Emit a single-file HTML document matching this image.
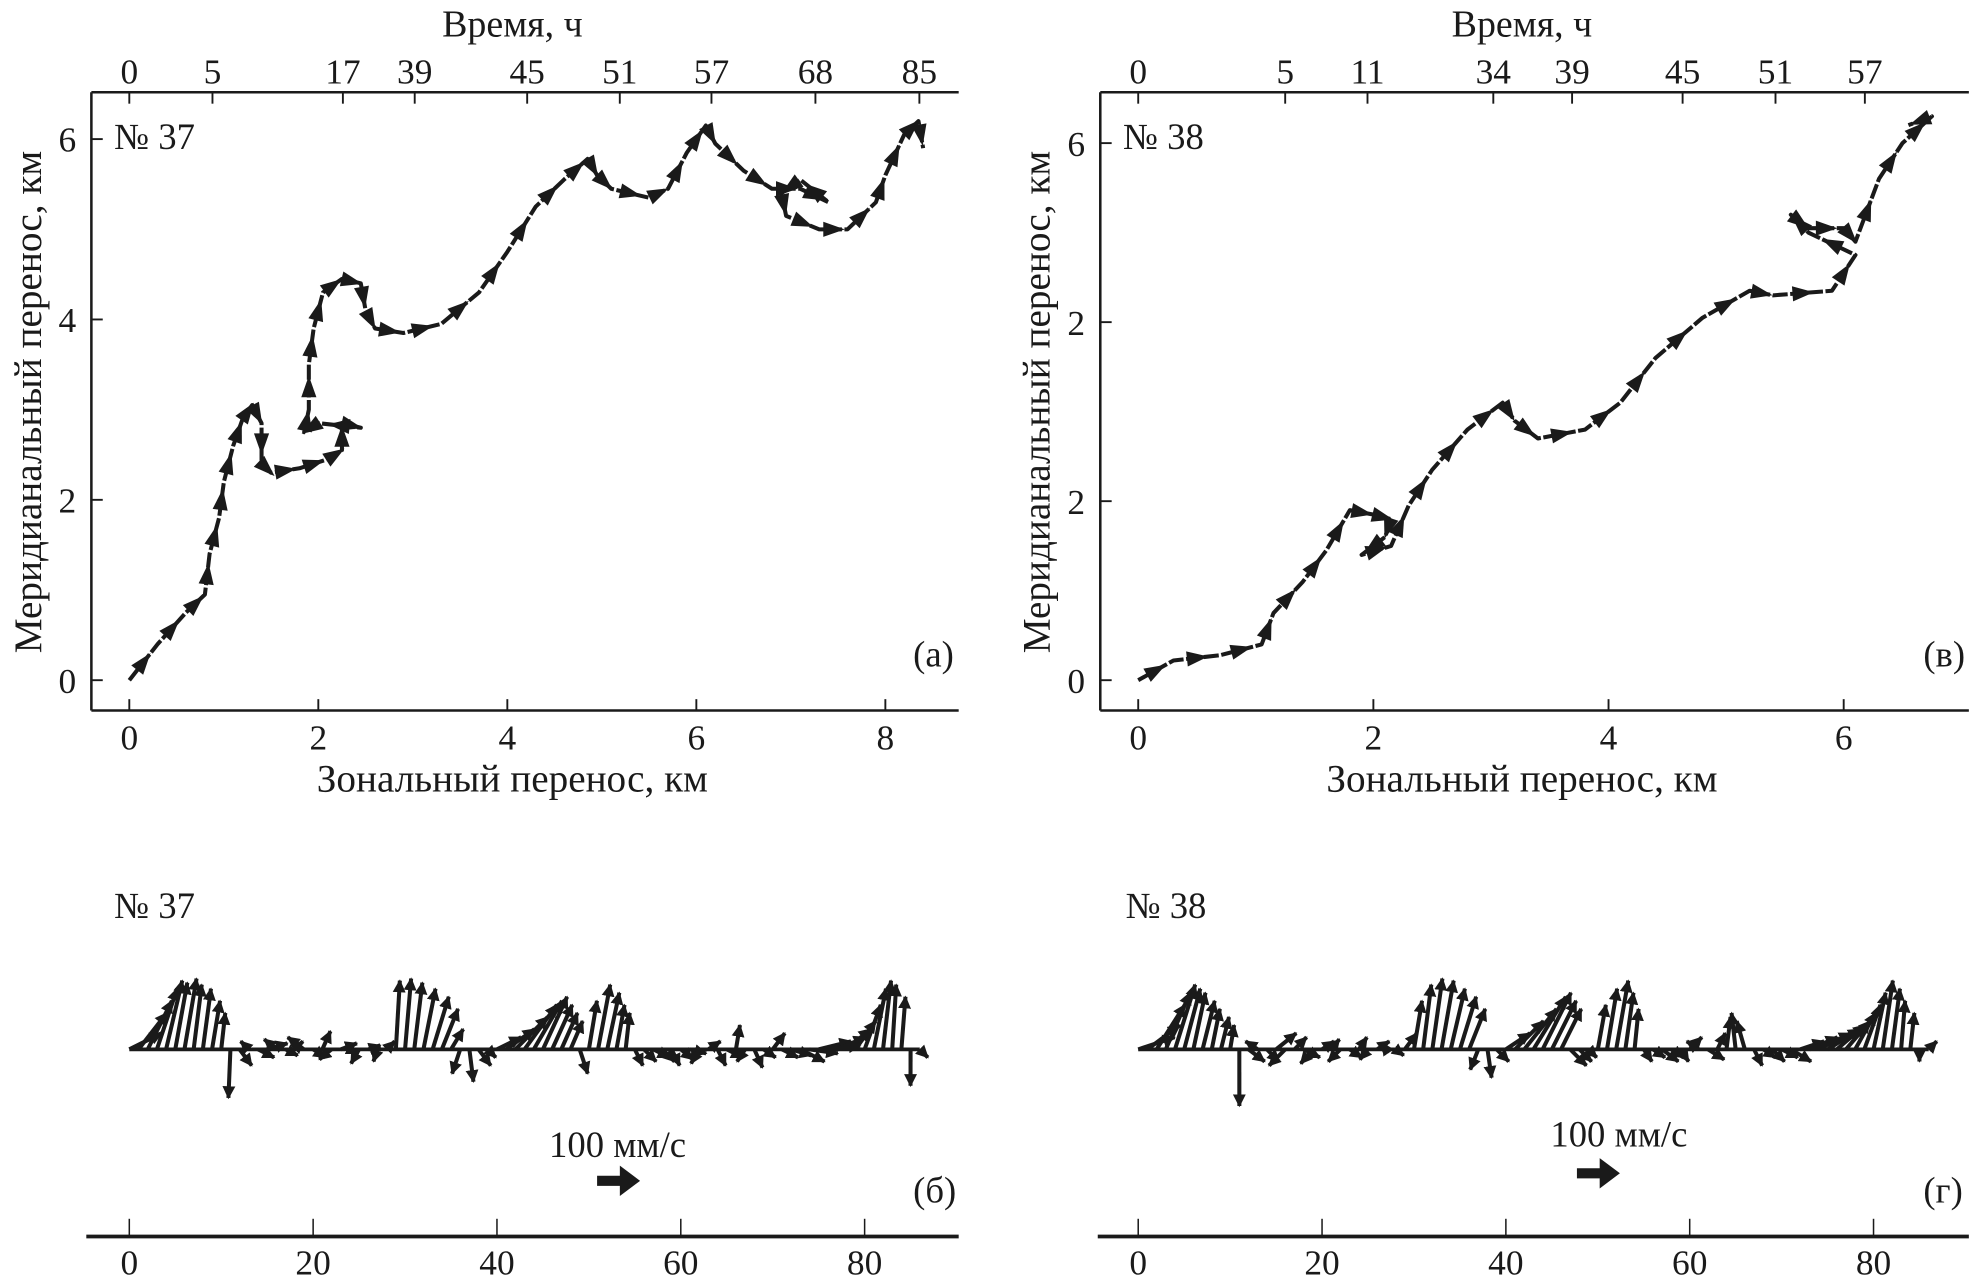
<!DOCTYPE html>
<html><head><meta charset="utf-8"><style>
html,body{margin:0;padding:0;background:#fff}
svg{display:block}
svg text{font-family:"Liberation Serif","Times New Roman",serif !important}
</style></head><body>
<svg id="fig" width="1973" height="1282" viewBox="0 0 1560 1014" xmlns="http://www.w3.org/2000/svg">
<defs>
<marker id="ah" viewBox="0 0 10 10" refX="9" refY="5" markerWidth="3.2" markerHeight="3.2" orient="auto"><path d="M0,0L10,5L0,10z" fill="#1a1a1a"/></marker>
</defs>
<g id="root" style="font-family:'Liberation Serif',serif" fill="#1a1a1a"></g>
</svg>
<script>
// ---- data: trajectory №37 (km)
const trajAx=[0,0.3,0.6,0.8,0.85,0.95,1.0,1.1,1.2,1.3,1.4,1.4,1.5,1.8,2.1,2.25,2.25,2.45,2.0,1.85,1.9,1.9,1.95,2.05,2.25,2.45,2.5,2.6,2.9,3.3,3.7,4.0,4.3,4.6,4.85,4.95,5.1,5.5,5.7,5.9,6.1,6.2,6.5,6.8,7.1,7.4,7.1,6.9,6.95,7.3,7.6,7.9,8.0,8.2,8.35,8.4];
const trajAy=[0,0.4,0.75,0.95,1.4,1.8,2.2,2.6,2.9,3.05,2.85,2.4,2.3,2.35,2.45,2.55,2.85,2.8,2.85,2.75,3.0,3.5,3.9,4.3,4.45,4.4,4.1,3.9,3.85,3.95,4.3,4.75,5.25,5.55,5.78,5.6,5.45,5.35,5.45,5.85,6.15,5.95,5.65,5.45,5.45,5.3,5.55,5.4,5.15,5.0,5.0,5.3,5.6,6.05,6.2,5.9];
// ---- data: trajectory №38 (km)
const trajBx=[0,0.3,0.7,1.05,1.15,1.4,1.6,1.8,2.0,2.15,2.1,1.9,2.15,2.3,2.5,2.8,3.1,3.2,3.4,3.8,4.1,4.4,4.8,5.2,5.4,5.9,6.1,5.7,5.55,5.7,6.0,6.1,6.3,6.5,6.75,6.55];
const trajBy=[0,0.22,0.28,0.4,0.75,1.1,1.45,1.9,1.85,1.8,1.6,1.4,1.5,1.95,2.35,2.8,3.1,2.9,2.7,2.8,3.1,3.6,4.05,4.35,4.3,4.35,4.75,5.0,5.2,5.05,5.05,4.9,5.6,6.0,6.3,6.2];
const ticksX37=[0,2,4,6,8], ticksX38=[0,2,4,6];
const ticksY=[0,2,4,6];
const yLabels37=["0","2","4","6"], yLabels38=["0","2","2","6"];
const timeA=["0","5","17","39","45","51","57","68","85"];
const timeApos=[0,0.88,2.26,3.02,4.21,5.19,6.16,7.26,8.36];
const timeB=["0","5","11","34","39","45","51","57"];
const timeBpos=[0,1.25,1.95,3.02,3.69,4.63,5.42,6.18];
// ---- stick plot velocities (mm/s), hourly
const v37=[40,90,120,150,170,165,175,160,150,120,90,-120,-40,20,-20,15,25,-15,20,30,-20,45,-25,15,-10,-35,10,-30,20,170,175,165,150,130,100,50,-60,-80,-40,-20,30,50,80,110,120,130,110,90,70,-60,120,160,140,110,90,-40,-30,-20,-30,-40,-25,-10,-35,20,-40,-20,60,-30,-45,-20,40,-20,-15,-30,-10,20,10,30,50,70,110,150,170,160,130,-90,-20];
const u37=[80,70,60,50,40,30,30,20,20,20,10,-5,30,-20,40,50,-30,30,20,-40,30,20,-30,40,20,-20,30,-10,20,10,15,20,30,40,40,30,-20,10,30,20,60,70,80,80,70,60,50,40,30,20,20,30,30,20,10,20,30,40,30,20,30,40,-20,30,20,40,10,-20,20,30,30,40,50,60,70,80,80,70,60,50,40,30,20,10,10,0,20];
const v38=[30,60,110,140,160,150,140,120,100,80,60,-140,-30,20,-30,40,-40,30,-20,-35,20,25,-30,-20,30,-25,20,15,-15,40,120,160,175,170,150,130,100,-50,-70,-30,40,70,100,130,140,120,100,-40,-30,-20,110,150,170,140,100,-30,-20,-30,-20,-30,30,20,-25,40,80,90,70,-40,-20,-30,-20,-30,20,30,40,50,60,70,90,110,140,170,150,120,90,-30,20];
const u38=[90,80,70,60,50,40,30,30,20,20,10,0,40,-30,30,50,-40,30,40,-30,30,20,-30,30,20,-20,30,-10,20,30,20,20,25,30,35,40,40,-20,10,30,60,70,80,80,70,60,50,40,30,20,20,25,30,20,10,20,30,40,30,20,30,-30,40,20,10,-10,-20,20,30,30,40,50,60,70,80,80,70,60,50,40,30,25,20,10,10,0,20];

const NS="http://www.w3.org/2000/svg";
const root=document.getElementById('root');
function mk(tag,attrs,parent,txt){const e=document.createElementNS(NS,tag);for(const k in attrs)e.setAttribute(k,attrs[k]);if(txt!==undefined)e.textContent=txt;(parent||root).appendChild(e);return e;}
const K='#1a1a1a';

function trajPanel(o){
  const g=mk('g',{});
  
  
  const sx=v=>o.x0+v*o.kx, sy=v=>538-v*o.ky;
  let l=mk('line',{x1:o.L,y1:73,x2:o.R,y2:73,stroke:K,'stroke-width':2},g);
  
  
  l=mk('line',{x1:o.L,y1:73,x2:o.L,y2:562,stroke:K,'stroke-width':2},g);
  
  
  l=mk('line',{x1:o.L,y1:562,x2:o.R,y2:562,stroke:K,'stroke-width':2},g);
  
  
  o.tx.forEach(t=>{mk('line',{x1:sx(t),y1:562,x2:sx(t),y2:553,stroke:K,'stroke-width':1.5},g);
    const tt=mk('text',{x:sx(t),y:593,'font-size':28,'text-anchor':'middle'},g,String(t));
    
    });
  ticksY.forEach((t,i)=>{mk('line',{x1:o.L,y1:sy(t),x2:o.L+9,y2:sy(t),stroke:K,'stroke-width':1.5},g);
    const tt=mk('text',{x:o.L-12,y:sy(t)+10,'font-size':28,'text-anchor':'end'},g,o.yl[i]);
    
    });
  o.tp.forEach((p,i)=>{mk('line',{x1:sx(p),y1:73,x2:sx(p),y2:82,stroke:K,'stroke-width':1.5},g);
    const tt=mk('text',{x:sx(p),y:66,'font-size':28,'text-anchor':'middle'},g,o.tl[i]);
    
    });
  let t=mk('text',{x:(o.L+o.R)/2-10,y:29,'font-size':30,'text-anchor':'middle'},g,'Время, ч');
  
  
  t=mk('text',{x:(o.L+o.R)/2-10,y:626,'font-size':31,'text-anchor':'middle'},g,'Зональный перенос, км');
  
  
  t=mk('text',{x:0,y:0,'font-size':31,'text-anchor':'middle',transform:`translate(${o.L-40},318) rotate(-90)`},g,'Меридианальный перенос, км');
  
  
  t=mk('text',{x:o.L+18,y:118,'font-size':29},g,o.no);
  
  
  t=mk('text',{x:o.R-36,y:527,'font-size':29},g,o.pl);
  
  
  const pts=o.xs.map((x,i)=>sx(x).toFixed(1)+','+sy(o.ys[i]).toFixed(1)).join(' ');
  const pl=mk('polyline',{points:pts,fill:'none',stroke:K,'stroke-width':3.2,'stroke-dasharray':'12 2','stroke-linejoin':'round'},g);
  
  
  for(let i=0;i<o.xs.length-1;i++){
    const x1=sx(o.xs[i]),y1=sy(o.ys[i]),x2=sx(o.xs[i+1]),y2=sy(o.ys[i+1]);
    const a=Math.atan2(y2-y1,x2-x1)*180/Math.PI, mx=(x1+x2)/2,my=(y1+y2)/2;
    const h=mk('path',{d:'M9,0L-8,-6L-8,6Z',fill:K,transform:`translate(${mx.toFixed(1)},${my.toFixed(1)}) rotate(${a.toFixed(1)})`},g);
    
    
  }
}
trajPanel({name:'trajectory-panel-37',L:72,R:758,x0:102,kx:74.75,ky:71.33,tx:ticksX37,yl:yLabels37,tp:timeApos,tl:timeA,xs:trajAx,ys:trajAy,no:'№ 37',pl:'(а)'});
trajPanel({name:'trajectory-panel-38',L:870,R:1557,x0:900,kx:93,ky:70.8,tx:ticksX38,yl:yLabels38,tp:timeBpos,tl:timeB,xs:trajBx,ys:trajBy,no:'№ 38',pl:'(в)'});

const hTicks=[0,20,40,60,80];
function stickPanel(o){
  const g=mk('g',{});
  
  
  const sx=h=>o.x0+h*7.27, base=830, s=0.32;
  let l=mk('line',{x1:o.L,y1:978,x2:o.R,y2:978,stroke:K,'stroke-width':3},g);
  
  
  hTicks.forEach(t=>{mk('line',{x1:sx(t),y1:978,x2:sx(t),y2:964,stroke:K,'stroke-width':1.2},g);
    const tt=mk('text',{x:sx(t),y:1008,'font-size':28,'text-anchor':'middle'},g,String(t));
    
    });
  let t=mk('text',{x:o.L+22,y:726,'font-size':29},g,o.no);
  
  
  t=mk('text',{x:o.sc[0],y:o.sc[1],'font-size':29},g,'100 мм/с');
  
  
  const ax=o.sc[2], ay=o.sc[3];
  const sa=mk('path',{d:`M${ax},${ay-4}L${ax+18},${ay-4}L${ax+18},${ay-12}L${ax+34},${ay}L${ax+18},${ay+12}L${ax+18},${ay+4}L${ax},${ay+4}Z`,fill:K},g);
  
  
  t=mk('text',{x:o.R-36,y:951,'font-size':29},g,o.pl);
  
  
  o.v.forEach((v,i)=>{
    const x=sx(i);
    const a=mk('line',{x1:x,y1:base,x2:(x+o.u[i]*s).toFixed(1),y2:(base-v*s).toFixed(1),stroke:K,'stroke-width':3.2,'marker-end':'url(#ah)'},g);
    
    
  });
  l=mk('line',{x1:o.x0,y1:base,x2:sx(o.v.length-1),y2:base,stroke:K,'stroke-width':3},g);
  
  
}
stickPanel({name:'velocity-panel-37',L:68,R:758,x0:102,v:v37,u:u37,no:'№ 37',pl:'(б)',sc:[434,915,472,934]});
stickPanel({name:'velocity-panel-38',L:868,R:1557,x0:900,v:v38,u:u38,no:'№ 38',pl:'(г)',sc:[1226,907,1247,928]});
</script>
</body></html>
